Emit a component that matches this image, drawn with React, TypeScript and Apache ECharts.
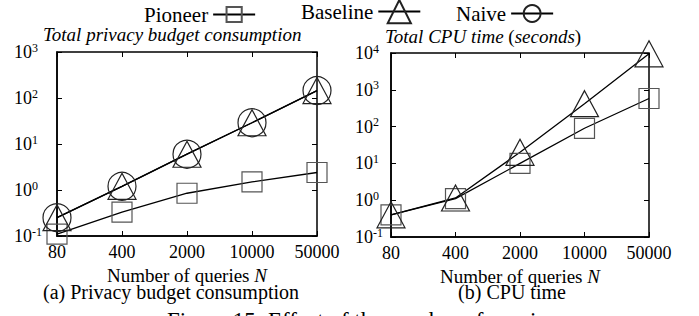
import React, { useEffect, useRef } from 'react';
import * as echarts from 'echarts';

const FONT = 'Liberation Serif';

const categories = ['80', '400', '2000', '10000', '50000'];
const privacyPioneer = [0.11, 0.33, 0.85, 1.5, 2.4];
const privacyBaseline = [0.25, 1.2, 6, 29, 145];
const privacyNaive = [0.25, 1.2, 6, 29, 145];
const cpuPioneer = [0.4, 1.1, 10, 90, 580];
const cpuBaseline = [0.4, 1.15, 20, 420, 9500];

const privacyRange = [0.1, 1000];
const cpuRange = [0.1, 10000];

const lineStyle = { color: '#000', width: 1.3 };
const markStyle = (c: string) => ({ color: 'rgba(0,0,0,0)', borderColor: c, borderWidth: 1.2 });

const yLabel = (margin: number) => ({
  color: '#000',
  align: 'left' as const,
  margin,
  formatter: (v: number) => {
    const e = Math.round(Math.log10(v));
    return `{b|10}{s|${e}}`;
  },
  rich: {
    b: { fontSize: 18, fontFamily: FONT, color: '#000' },
    s: { fontSize: 12, fontFamily: FONT, color: '#000', padding: [0, 0, 9, 0] },
  },
});

function makeYAxis(grid: number, range: number[], margin: number) {
  return [
    {
      type: 'log', logBase: 10, gridIndex: grid, min: range[0], max: range[1],
      axisLine: { show: true, lineStyle: { color: '#000', width: 1.5 } },
      axisTick: { show: true, inside: true, length: 5, lineStyle: { color: '#000' } },
      minorTick: { show: false },
      splitLine: { show: false },
      axisLabel: yLabel(margin),
    },
    {
      type: 'log', logBase: 10, gridIndex: grid, min: range[0], max: range[1], position: 'right',
      axisLine: { show: false },
      axisTick: { show: true, inside: true, length: 5, lineStyle: { color: '#000' } },
      splitLine: { show: false },
      axisLabel: { show: false },
    },
  ];
}

function makeXAxis(grid: number) {
  return [
    {
      type: 'category', gridIndex: grid, data: categories, boundaryGap: false,
      axisLine: { show: true, lineStyle: { color: '#000', width: 1.5 } },
      axisTick: { show: true, inside: true, length: 5, alignWithLabel: true, lineStyle: { color: '#000' } },
      axisLabel: { color: '#000', fontSize: 18, fontFamily: FONT, margin: 7, interval: 0 },
      name: 'Number of queries {i|N}',
      nameLocation: 'middle',
      nameGap: 24,
      nameTextStyle: {
        fontSize: 19, fontFamily: FONT, color: '#000', lineHeight: 17,
        rich: { i: { fontSize: 19, fontFamily: FONT, fontStyle: 'italic', color: '#000', lineHeight: 17 } },
      },
    },
    {
      type: 'category', gridIndex: grid, data: categories, boundaryGap: false, position: 'top',
      axisLine: { show: false },
      axisTick: { show: true, inside: true, length: 5, lineStyle: { color: '#000' } },
      axisLabel: { show: false },
    },
  ];
}

const sq = { symbol: 'rect', symbolSize: 20, itemStyle: markStyle('#555') };
const tri = { symbol: 'triangle', symbolSize: [28, 26], itemStyle: markStyle('#222') };
const cir = { symbol: 'circle', symbolSize: 28, itemStyle: markStyle('#222') };

function series(name: string, data: number[], xi: number, yi: number, mark: any) {
  return {
    type: 'line', name, data, xAxisIndex: xi, yAxisIndex: yi,
    lineStyle, ...mark, clip: false, showAllSymbol: true,
    emphasis: { disabled: true },
  };
}

const legendBase = {
  orient: 'horizontal', align: 'right', padding: 0, itemWidth: 42, selectedMode: false,
  textStyle: { fontSize: 21, fontFamily: FONT, color: '#000' },
};

const option: any = {
  animation: false,
  backgroundColor: '#fff',
  textStyle: { fontFamily: FONT },
  grid: [
    { left: 57, right: 382, top: 52, bottom: 80, show: true, borderColor: '#000', borderWidth: 1.5, backgroundColor: 'transparent' },
    { left: 391, right: 50, top: 53, bottom: 79, show: true, borderColor: '#000', borderWidth: 1.5, backgroundColor: 'transparent' },
  ],
  xAxis: [...makeXAxis(0), ...makeXAxis(1)],
  yAxis: [...makeYAxis(0, privacyRange, 43), ...makeYAxis(1, cpuRange, 36)],
  legend: [
    { ...legendBase, data: ['Pioneer'], left: 144, top: 4, itemHeight: 19 },
    { ...legendBase, data: ['Baseline'], left: 301, top: -1, itemHeight: 29 },
    { ...legendBase, data: ['Naive'], left: 456, top: 3, itemHeight: 21 },
  ],
  title: [
    {
      text: 'Total privacy budget consumption', left: 43, top: 25, padding: 0,
      textStyle: { fontSize: 19, fontFamily: FONT, fontStyle: 'italic', fontWeight: 'normal', color: '#000' },
    },
    {
      text: '{i|Total CPU time} ({i|seconds})', left: 385, top: 27, padding: 0,
      textStyle: {
        fontSize: 19, fontFamily: FONT, fontWeight: 'normal', color: '#000',
        rich: { i: { fontSize: 19, fontFamily: FONT, fontStyle: 'italic', color: '#000' } },
      },
    },
  ],
  graphic: [
    { type: 'text', x: 171, y: 292, style: { text: '(a) Privacy budget consumption', font: `20px "${FONT}"`, fill: '#000', textAlign: 'center', textVerticalAlign: 'middle' } },
    { type: 'text', x: 512, y: 292, style: { text: '(b) CPU time', font: `20px "${FONT}"`, fill: '#000', textAlign: 'center', textVerticalAlign: 'middle' } },
    { type: 'text', x: 167, y: 309, style: { text: 'Figure 15: Effect of the number of queries', font: `23px "${FONT}"`, fill: '#000', textAlign: 'left', textVerticalAlign: 'top' } },
  ],
  series: [
    series('Pioneer', privacyPioneer, 0, 0, sq),
    series('Baseline', privacyBaseline, 0, 0, tri),
    series('Naive', privacyNaive, 0, 0, cir),
    series('Pioneer', cpuPioneer, 2, 2, sq),
    series('Baseline', cpuBaseline, 2, 2, tri),
  ],
};

export default function App() {
  const ref = useRef<HTMLDivElement>(null);
  useEffect(() => {
    const chart = echarts.init(ref.current!, null, { renderer: 'svg' });
    chart.setOption(option);
    return () => chart.dispose();
  }, []);
  return <div ref={ref} style={{ position: 'absolute', left: 0, top: 0, width: 699, height: 316 }} />;
}
